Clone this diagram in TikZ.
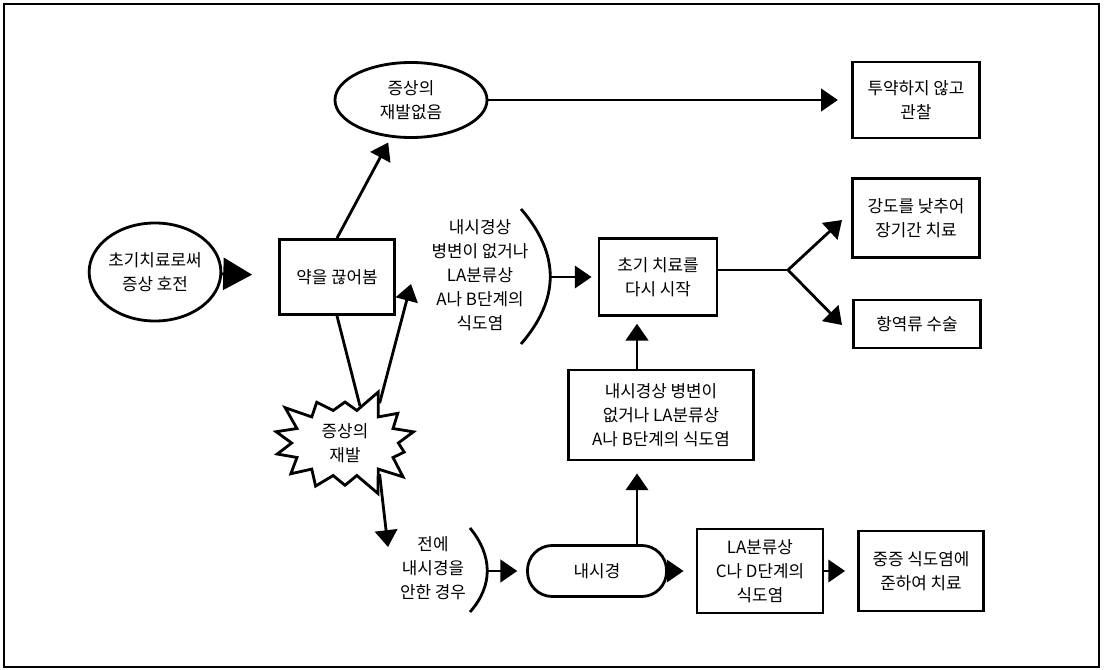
\documentclass[tikz,border=0pt]{standalone}
\usepackage{fontspec}
\newfontfamily\kr{Noto Sans CJK KR}
\usetikzlibrary{arrows.meta,shapes.geometric,shapes.symbols}

\begin{document}
\begin{tikzpicture}[x=0.025cm, y=-0.025cm,
        every node/.style={font=\kr\fontsize{12}{17}\selectfont, align=center},
        box/.style={draw, line width=2pt, inner sep=1pt},
        oval/.style={draw, ellipse, line width=2pt, inner sep=0pt},
        arr/.style={-{Triangle[length=0.42cm, width=0.56cm]}, line width=2pt},
        bigarr/.style={-{Triangle[length=0.72cm, width=0.8cm]}, line width=2pt},
        bracket/.style={line width=2pt}]
        \useasboundingbox (0, 0) rectangle (1105, 670);
        \draw[line width=1pt] (4, 4) rectangle (1099, 667);

        \node[oval, minimum width=3cm, minimum height=2.45cm] (start) at (155, 272) {초기치료로써\\증상 호전};
        \node[box, minimum width=2.875cm, minimum height=1.875cm] (drop) at (337, 277) {약을 끊어봄};
        \node[oval, minimum width=3.8cm, minimum height=1.875cm] (norec) at (411, 100) {증상의\\재발없음};
        \node[box, minimum width=3.175cm, minimum height=1.9cm] (obs) at (916, 100) {투약하지 않고\\관찰};

        \node (condA) at (480, 275) {내시경상\\병변이 없거나\\LA분류상\\A나 B단계의\\식도염};
        \node[box, minimum width=2.95cm, minimum height=1.925cm] (restart) at (658, 277) {초기 치료를\\다시 시작};
        \node[box, minimum width=3.175cm, minimum height=1.975cm] (longterm) at (916, 218) {강도를 낮추어\\장기간 치료};
        \node[box, minimum width=3.175cm, minimum height=1.2cm] (surgery) at (917, 324) {항역류 수술};

        \node[draw, starburst, line width=2pt, fill=white, starburst points=14,
            starburst point height=0.6cm, random starburst=3,
            inner xsep=0.36cm, inner ysep=0.1cm] (burst) at (345, 443) {증상의\\재발};
        \node[box, minimum width=4.625cm, minimum height=2.25cm] (abbox) at (661, 415) {내시경상 병변이\\없거나 LA분류상\\A나 B단계의 식도염};

        \node (condB) at (433, 568) {전에\\내시경을\\안한 경우};
        \node[box, rounded corners=0.62cm, minimum width=3.475cm, minimum height=1.275cm] (endo) at (597, 571) {내시경};
        \node[box, minimum width=3.15cm, minimum height=2.1cm] (cdbox) at (760, 571) {LA분류상\\C나 D단계의\\식도염};
        \node[box, minimum width=3.125cm, minimum height=2cm] (severe) at (921, 571) {중증 식도염에\\준하여 치료};

        \coordinate (brA) at (550, 277);
        \coordinate (brB) at (487, 571);
        \coordinate (fork) at (788, 270);
        \coordinate (upTip) at (842, 220);
        \coordinate (dnTip) at (842, 325);
        \coordinate (abTip) at (411, 284);
        \coordinate (bTip) at (388, 547);
        \coordinate (vx) at (637, 0);

        \draw[bracket] (521, 209) .. controls (560, 254) and (560, 299) .. (521, 344);
        \draw[bracket] (470, 528) .. controls (493, 556) and (493, 586) .. (470, 612);

        \draw[bigarr, shorten >=0.65cm] (start) -- (drop);
        \draw[arr, shorten >=4pt] (drop.north) -- (norec);
        \draw[arr, shorten >=0.33cm] (norec) -- (obs);

        \draw[line width=2pt] (drop.south) -- (burst.68);
        \draw[arr] (burst.49) -- (abTip);
        \draw[arr] (burst.-42) -- (bTip);

        \draw[arr, shorten >=0.15cm] (brA) -- (restart);
        \draw[line width=2pt] (restart.east |- fork) -- (fork);
        \draw (fork) edge[arr] (upTip)
            (fork) edge[arr] (dnTip);

        \draw[arr, shorten >=0.17cm] (abbox.north -| vx) -- (restart.south -| vx);
        \draw[arr, shorten >=0.3cm] (endo.north -| vx) -- (abbox.south -| vx);

        \draw[arr, shorten >=0.22cm] (brB) -- (endo);
        \draw[arr, shorten >=0.3cm] (endo) -- (cdbox);
        \draw[arr, shorten >=0.3cm] (cdbox) -- (severe);
    \end{tikzpicture}
\end{document}
